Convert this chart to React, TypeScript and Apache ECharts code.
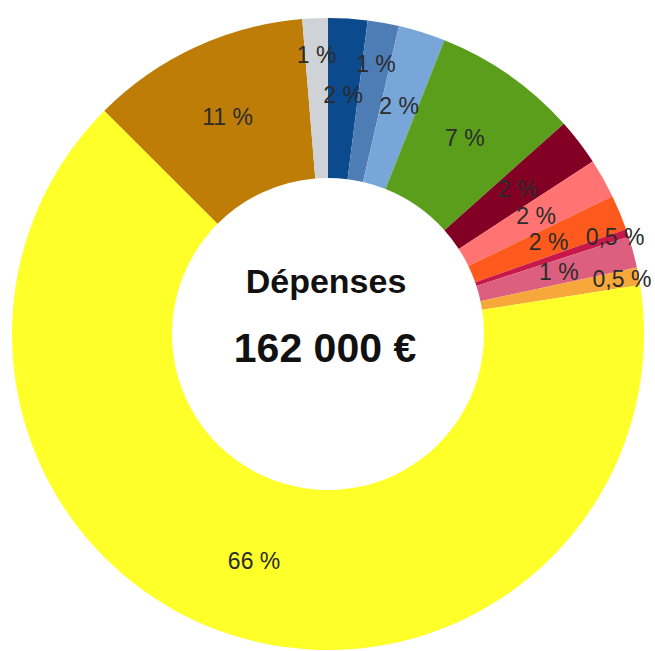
import React, { useEffect, useRef } from "react";
import * as echarts from "echarts";

// Share of each spending category (% of total), clockwise from 12 o'clock
const categories = [
  "Bleu foncé", "Bleu acier", "Bleu clair", "Vert", "Bordeaux", "Saumon",
  "Orange", "Cramoisi", "Rose", "Ambre", "Jaune", "Brun", "Gris",
];
const values = [2.0, 1.6, 2.4, 7.4, 2.4, 2.0, 1.8, 0.4, 1.6, 0.9, 64.9, 11.2, 1.3];
const labels = ["2 %", "1 %", "2 %", "7 %", "2 %", "2 %", "2 %", "0,5 %", "1 %", "0,5 %", "66 %", "11 %", "1 %"];
const colors = [
  "#0b4a8c", "#4e7db6", "#78a6d8", "#5a9e1c", "#820024", "#ff7373",
  "#ff5a1e", "#c8184a", "#dd5f80", "#f6a93a", "#ffff2a", "#bd7d06", "#cfd2d6",
];
// radial push (px) for labels moved outward to avoid overlapping
const labelPush = [0, 35, 0, 0, 0, 0, 0, 64, 0, 60, 0, 0, 40];

const title = "Dépenses";
const total = "162 000 €";

const CX = 328;
const CY = 334;

export default function App() {
  const ref = useRef<HTMLDivElement>(null);
  useEffect(() => {
    if (!ref.current) return;
    const chart = echarts.init(ref.current, undefined, { renderer: "svg" });
    chart.setOption({
      animation: false,
      backgroundColor: "#ffffff",
      series: [
        {
          type: "pie",
          center: [CX, CY],
          radius: [156, 316],
          startAngle: 90,
          clockwise: true,
          avoidLabelOverlap: false,
          silent: true,
          itemStyle: { borderWidth: 0 },
          label: {
            show: true,
            position: "inside",
            color: "#2b2b2b",
            fontFamily: "Liberation Sans",
            fontSize: 23,
            textBorderWidth: 0,
            formatter: (p: any) => labels[p.dataIndex],
          },
          labelLine: { show: false },
          labelLayout: (p: any) => {
            const push = labelPush[p.dataIndex] || 0;
            if (!push) return {};
            const r = p.labelRect;
            const mx = r.x + r.width / 2 - CX;
            const my = r.y + r.height / 2 - CY;
            const len = Math.sqrt(mx * mx + my * my) || 1;
            return { dx: (mx / len) * push, dy: (my / len) * push };
          },
          data: categories.map((name, i) => ({
            name,
            value: values[i],
            itemStyle: { color: colors[i] },
          })),
        },
      ],
      graphic: [
        {
          type: "text",
          x: CX - 2,
          y: 281,
          style: {
            text: title,
            fill: "#111111",
            font: "bold 34px 'Liberation Sans'",
            textAlign: "center",
            textVerticalAlign: "middle",
          },
        },
        {
          type: "text",
          x: CX - 3,
          y: 348,
          style: {
            text: total,
            fill: "#111111",
            font: "bold 41px 'Liberation Sans'",
            textAlign: "center",
            textVerticalAlign: "middle",
          },
        },
      ],
    });
    return () => chart.dispose();
  }, []);
  return (
    <div
      ref={ref}
      style={{ position: "absolute", left: 0, top: 0, width: 655, height: 651 }}
    />
  );
}
